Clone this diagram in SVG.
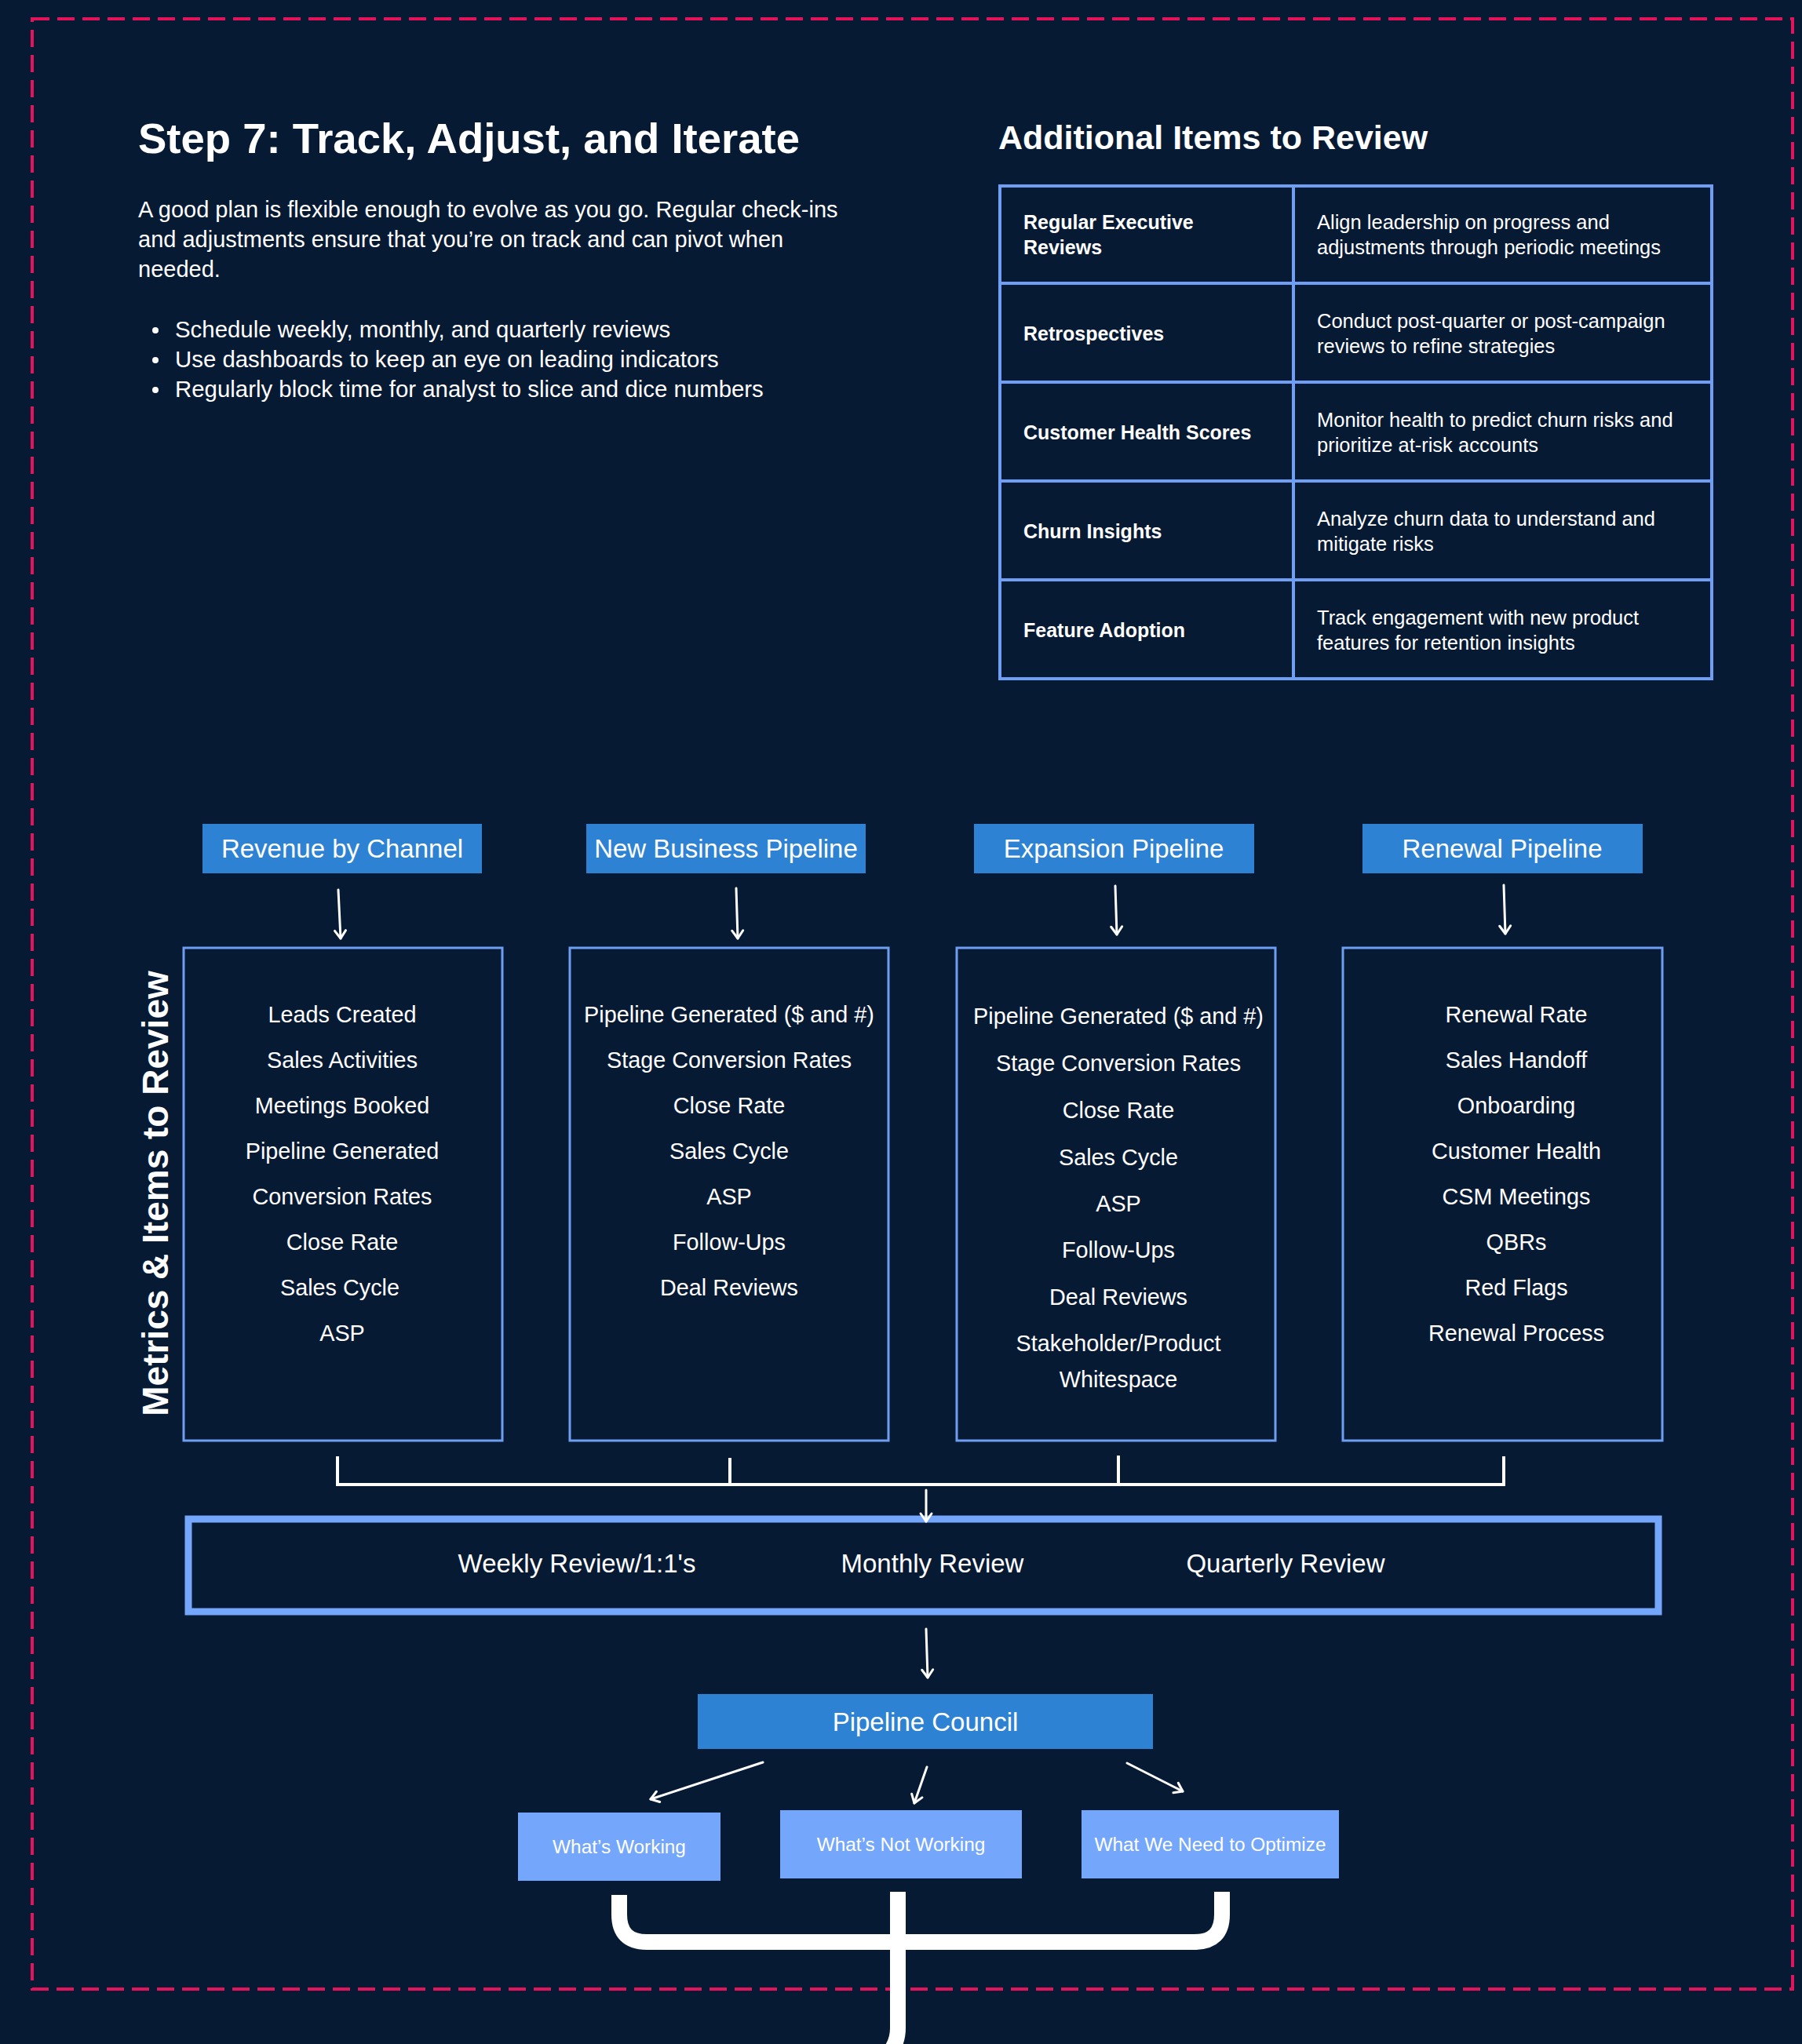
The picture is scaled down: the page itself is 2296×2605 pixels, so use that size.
<svg xmlns="http://www.w3.org/2000/svg" width="2296" height="2605" viewBox="0 0 2296 2605">
<defs>
<style>
.t{font-family:"Liberation Sans",Arial,sans-serif;fill:#ffffff}
.b{font-weight:bold}
.hdr{fill:#2e82d4}
.sub{fill:#74a6fc}
.mbox{fill:none;stroke:#6e9ef2;stroke-width:3}
.tbl{fill:none;stroke:#6e9ff5;stroke-width:4}
.arr{fill:none;stroke:#ffffff;stroke-width:3;stroke-linecap:round}
.m{font-size:28.8px;text-anchor:middle}
.h{font-size:33px;text-anchor:middle}
.tl{font-size:25px;font-weight:bold}
.tr{font-size:25.5px}
</style>
<marker id="ah" markerUnits="userSpaceOnUse" markerWidth="24" markerHeight="24" viewBox="0 0 24 24" refX="20" refY="12" orient="auto">
<path d="M10,5 L20,12 L10,19" fill="none" stroke="#ffffff" stroke-width="3" stroke-linecap="round" stroke-linejoin="round"/>
</marker>
</defs>
<rect x="0" y="0" width="2296" height="2605" fill="#071a34"/>
<rect x="41" y="24" width="2243" height="2511" fill="none" stroke="#e3145c" stroke-width="4" stroke-dasharray="22 10"/>

<g id="intro">
<text class="t b" x="176" y="195" font-size="54.5">Step 7: Track, Adjust, and Iterate</text>
<text class="t" font-size="29"><tspan x="176" y="277">A good plan is flexible enough to evolve as you go. Regular check-ins</tspan><tspan x="176" y="315">and adjustments ensure that you’re on track and can pivot when</tspan><tspan x="176" y="353">needed.</tspan></text>
<circle cx="198" cy="421" r="4" fill="#ffffff"/>
<circle cx="198" cy="459" r="4" fill="#ffffff"/>
<circle cx="198" cy="497" r="4" fill="#ffffff"/>
<text class="t" font-size="29.4"><tspan x="223" y="430">Schedule weekly, monthly, and quarterly reviews</tspan><tspan x="223" y="468">Use dashboards to keep an eye on leading indicators</tspan><tspan x="223" y="506">Regularly block time for analyst to slice and dice numbers</tspan></text>
</g>

<g id="additional-items">
<text class="t b" x="1272" y="190" font-size="43">Additional Items to Review</text>
<rect class="tbl" x="1274" y="237" width="907" height="628"/>
<path class="tbl" d="M1648,237 V865 M1274,361 H2181 M1274,487 H2181 M1274,613 H2181 M1274,739 H2181"/>
<text class="t tl"><tspan x="1304" y="292">Regular Executive</tspan><tspan x="1304" y="324">Reviews</tspan></text>
<text class="t tr"><tspan x="1678" y="292">Align leadership on progress and</tspan><tspan x="1678" y="324">adjustments through periodic meetings</tspan></text>
<text class="t tl" x="1304" y="434">Retrospectives</text>
<text class="t tr"><tspan x="1678" y="418">Conduct post-quarter or post-campaign</tspan><tspan x="1678" y="450">reviews to refine strategies</tspan></text>
<text class="t tl" x="1304" y="560">Customer Health Scores</text>
<text class="t tr"><tspan x="1678" y="544">Monitor health to predict churn risks and</tspan><tspan x="1678" y="576">prioritize at-risk accounts</tspan></text>
<text class="t tl" x="1304" y="686">Churn Insights</text>
<text class="t tr"><tspan x="1678" y="670">Analyze churn data to understand and</tspan><tspan x="1678" y="702">mitigate risks</tspan></text>
<text class="t tl" x="1304" y="812">Feature Adoption</text>
<text class="t tr"><tspan x="1678" y="796">Track engagement with new product</tspan><tspan x="1678" y="828">features for retention insights</tspan></text>
</g>

<g id="side-label">
<text class="t b" font-size="46" text-anchor="middle" transform="translate(214,1521) rotate(-90)">Metrics &amp; Items to Review</text>
</g>

<g id="revenue-by-channel">
<rect class="hdr" x="258" y="1050" width="356" height="63"/>
<text class="t h" x="436" y="1093">Revenue by Channel</text>
</g>
<g id="new-business-pipeline">
<rect class="hdr" x="747" y="1050" width="356" height="63"/>
<text class="t h" x="925" y="1093">New Business Pipeline</text>
</g>
<g id="expansion-pipeline">
<rect class="hdr" x="1241" y="1050" width="357" height="63"/>
<text class="t h" x="1419" y="1093">Expansion Pipeline</text>
</g>
<g id="renewal-pipeline">
<rect class="hdr" x="1736" y="1050" width="357" height="63"/>
<text class="t h" x="1914" y="1093">Renewal Pipeline</text>
</g>

<g id="revenue-metrics">
<rect class="mbox" x="234" y="1208" width="406" height="628"/>
<text class="t m"><tspan x="436" y="1303">Leads Created</tspan><tspan x="436" y="1361">Sales Activities</tspan><tspan x="436" y="1419">Meetings Booked</tspan><tspan x="436" y="1477">Pipeline Generated</tspan><tspan x="436" y="1535">Conversion Rates</tspan><tspan x="436" y="1593">Close Rate</tspan><tspan x="433" y="1651">Sales Cycle</tspan><tspan x="436" y="1709">ASP</tspan></text>
</g>
<g id="new-business-metrics">
<rect class="mbox" x="726" y="1208" width="406" height="628"/>
<text class="t m"><tspan x="929" y="1303">Pipeline Generated ($ and #)</tspan><tspan x="929" y="1361">Stage Conversion Rates</tspan><tspan x="929" y="1419">Close Rate</tspan><tspan x="929" y="1477">Sales Cycle</tspan><tspan x="929" y="1535">ASP</tspan><tspan x="929" y="1593">Follow-Ups</tspan><tspan x="929" y="1651">Deal Reviews</tspan></text>
</g>
<g id="expansion-metrics">
<rect class="mbox" x="1219" y="1208" width="406" height="628"/>
<text class="t m"><tspan x="1425" y="1305">Pipeline Generated ($ and #)</tspan><tspan x="1425" y="1365">Stage Conversion Rates</tspan><tspan x="1425" y="1425">Close Rate</tspan><tspan x="1425" y="1485">Sales Cycle</tspan><tspan x="1425" y="1544">ASP</tspan><tspan x="1425" y="1603">Follow-Ups</tspan><tspan x="1425" y="1663">Deal Reviews</tspan><tspan x="1425" y="1722">Stakeholder/Product</tspan><tspan x="1425" y="1768">Whitespace</tspan></text>
</g>
<g id="renewal-metrics">
<rect class="mbox" x="1711" y="1208" width="407" height="628"/>
<text class="t m"><tspan x="1932" y="1303">Renewal Rate</tspan><tspan x="1932" y="1361">Sales Handoff</tspan><tspan x="1932" y="1419">Onboarding</tspan><tspan x="1932" y="1477">Customer Health</tspan><tspan x="1932" y="1535">CSM Meetings</tspan><tspan x="1932" y="1593">QBRs</tspan><tspan x="1932" y="1651">Red Flags</tspan><tspan x="1932" y="1709">Renewal Process</tspan></text>
</g>

<g id="reviews">
<rect x="240" y="1936" width="1873" height="118" fill="none" stroke="#74a6fc" stroke-width="9"/>
<text class="t h" x="735" y="2004">Weekly Review/1:1's</text>
<text class="t h" x="1188" y="2004">Monthly Review</text>
<text class="t h" x="1638" y="2004">Quarterly Review</text>
</g>

<g id="pipeline-council">
<rect class="hdr" x="889" y="2159" width="580" height="70"/>
<text class="t h" x="1179" y="2206">Pipeline Council</text>
</g>
<g id="whats-working">
<rect class="sub" x="660" y="2310" width="258" height="87"/>
<text class="t" font-size="24.4" text-anchor="middle" x="789" y="2362">What’s Working</text>
</g>
<g id="whats-not-working">
<rect class="sub" x="994" y="2307" width="308" height="87"/>
<text class="t" font-size="24.4" text-anchor="middle" x="1148" y="2359">What’s Not Working</text>
</g>
<g id="what-to-optimize">
<rect class="sub" x="1378" y="2307" width="328" height="87"/>
<text class="t" font-size="24.4" text-anchor="middle" x="1542" y="2359">What We Need to Optimize</text>
</g>

<g id="connectors">
<path class="arr" d="M431,1134 L434,1196" marker-end="url(#ah)"/>
<path class="arr" d="M938,1132 L940,1196" marker-end="url(#ah)"/>
<path class="arr" d="M1421,1129 L1423,1191" marker-end="url(#ah)"/>
<path class="arr" d="M1916,1128 L1918,1190" marker-end="url(#ah)"/>
<path d="M430,1856 V1892 H1916 V1856 M930,1858 V1892 M1425,1855 V1892" fill="none" stroke="#ffffff" stroke-width="4"/>
<path class="arr" d="M1180,1899 L1180,1939" marker-end="url(#ah)"/>
<path class="arr" d="M1180,2076 L1182,2138" marker-end="url(#ah)"/>
<path class="arr" stroke-width="4" d="M972,2246 L829,2293" marker-end="url(#ah)"/>
<path class="arr" stroke-width="4" d="M1181,2252 L1165,2298" marker-end="url(#ah)"/>
<path class="arr" stroke-width="4" d="M1436,2247 L1507,2283" marker-end="url(#ah)"/>
<path d="M789,2415 V2440 Q789,2475 824,2475 H1522 Q1557,2475 1557,2440 V2411" fill="none" stroke="#ffffff" stroke-width="20"/>
<path d="M1144,2411 V2585 Q1144,2605 1130,2620" fill="none" stroke="#ffffff" stroke-width="20"/>
</g>
</svg>
